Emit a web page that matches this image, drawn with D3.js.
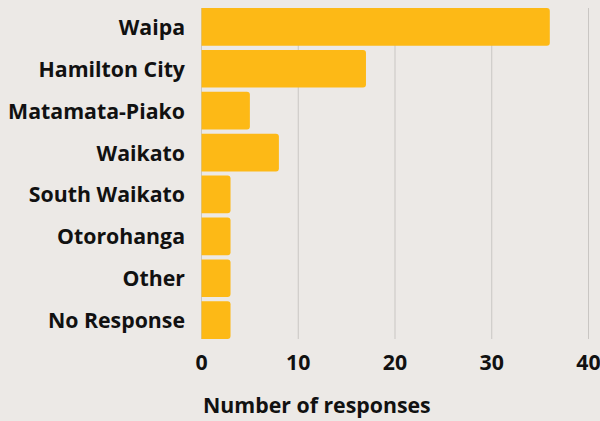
<!DOCTYPE html>
<html>
<head>
<meta charset="utf-8">
<script src="https://cdn.jsdelivr.net/npm/d3@7"></script>
<style>
  html, body { margin: 0; padding: 0; background: #ece9e6; }
  svg { display: block; }
  text { font-family: "Open Sans", "Noto Sans", sans-serif; font-weight: 700; fill: #111; }
</style>
</head>
<body>
<svg id="chart" width="600" height="421"></svg>
<script>
// Survey responses by district
const categories = ["Waipa", "Hamilton City", "Matamata-Piako", "Waikato", "South Waikato", "Otorohanga", "Other", "No Response"];
const responses = [36, 17, 5, 8, 3, 3, 3, 3];
const xTicks = [0, 10, 20, 30, 40];
const xTitle = "Number of responses";

(function () {
  const svg = d3.select("#chart");
  const plotLeft = 201.5, plotRight = 588.5, plotTop = 8, plotBottom = 339;
  const fontSize = 21.3;

  const x = d3.scaleLinear().domain([0, 40]).range([plotLeft, plotRight]);
  const y = d3.scaleBand().domain(categories).range([plotTop, plotBottom]).paddingInner(0.1).paddingOuter(0);

  // vertical gridlines
  svg.append("g").selectAll("line").data(xTicks).join("line")
    .attr("x1", d => x(d)).attr("x2", d => x(d))
    .attr("y1", plotTop).attr("y2", plotBottom)
    .attr("stroke", "#c9c6c3").attr("stroke-width", 1);

  // bars with rounded right end
  function barPath(d, i) {
    const x0 = x(0), x1 = x(d), y0 = y(categories[i]), h = y.bandwidth();
    const r = Math.min(3, (x1 - x0) / 2);
    return `M${x0},${y0}H${x1 - r}Q${x1},${y0} ${x1},${y0 + r}V${y0 + h - r}Q${x1},${y0 + h} ${x1 - r},${y0 + h}H${x0}Z`;
  }
  svg.append("g").selectAll("path").data(responses).join("path")
    .attr("d", barPath)
    .attr("fill", "#fdb916");

  // category labels
  svg.append("g").selectAll("text").data(categories).join("text")
    .attr("x", 185)
    .attr("y", d => y(d) + y.bandwidth() / 2 + 8)
    .attr("text-anchor", "end")
    .attr("font-size", fontSize)
    .text(d => d);

  // x tick labels
  svg.append("g").selectAll("text").data(xTicks).join("text")
    .attr("x", d => x(d))
    .attr("y", 370)
    .attr("text-anchor", "middle")
    .attr("font-size", fontSize)
    .text(d => d);

  // axis title
  svg.append("text")
    .attr("x", 203)
    .attr("y", 413)
    .attr("font-size", fontSize)
    .text(xTitle);
})();
</script>
</body>
</html>
